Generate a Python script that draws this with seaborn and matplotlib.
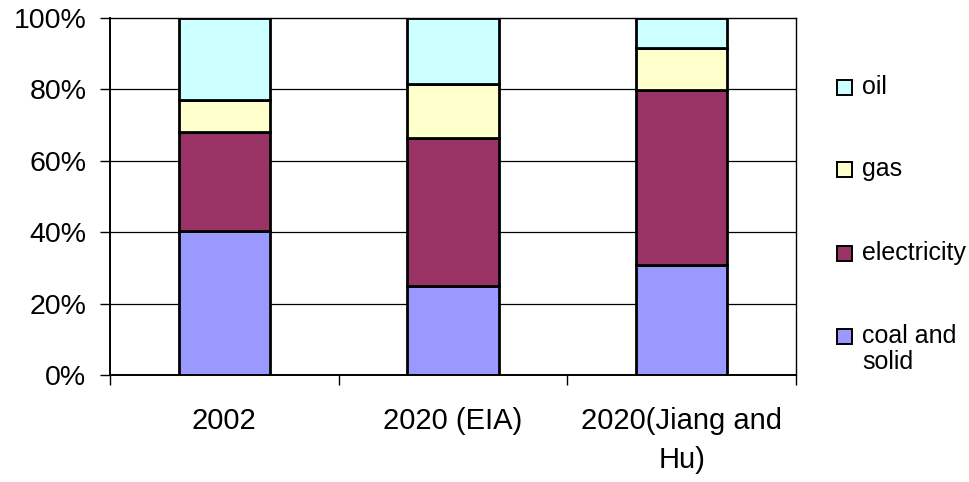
import numpy as np
import pandas as pd
import matplotlib
matplotlib.use("Agg")
import matplotlib.pyplot as plt
from matplotlib.patches import Rectangle
from matplotlib.ticker import FixedLocator, PercentFormatter
import seaborn as sns

# Shares of final energy use (%), stacked bottom to top
categories = ["2002", "2020 (EIA)", "2020(Jiang and\nHu)"]
coal_and_solid = [40.4, 25.1, 31.0]
electricity = [27.6, 41.3, 48.9]
gas = [9.1, 15.2, 11.6]
oil = [22.9, 18.4, 8.5]

series_names = ["coal and\nsolid", "electricity", "gas", "oil"]
series_values = [coal_and_solid, electricity, gas, oil]
series_colors = ["#9999FF", "#993366", "#FFFFCC", "#CCFFFF"]

sns.set_style("white")
plt.rcParams["font.family"] = ["Liberation Sans", "DejaVu Sans"]
plt.rcParams["text.color"] = "black"
plt.rcParams["xtick.color"] = "black"
plt.rcParams["ytick.color"] = "black"
plt.rcParams["axes.labelcolor"] = "black"

fig = plt.figure(figsize=(9.7, 4.82), dpi=100)
ax = fig.add_axes([0.1134, 0.221, 0.7072, 0.7417])

# horizontal gridlines behind the bars
for yv in [20, 40, 60, 80]:
    ax.axhline(yv, color="black", lw=0.9, zorder=0)

bottom = np.zeros(len(categories))
for name, vals, col in zip(series_names, series_values, series_colors):
    sns.barplot(x=categories, y=vals, bottom=bottom, color=col, width=0.4,
                edgecolor="black", linewidth=2.0, errorbar=None,
                saturation=1, ax=ax, zorder=2)
    bottom = bottom + np.array(vals)

ax.set_ylim(0, 100)
ax.set_xlim(-0.5, len(categories) - 0.5)
ax.yaxis.set_major_locator(FixedLocator([0, 20, 40, 60, 80, 100]))
ax.yaxis.set_major_formatter(PercentFormatter(decimals=0))

for side in ["left", "right", "top", "bottom"]:
    ax.spines[side].set_visible(True)
    ax.spines[side].set_color("black")
    ax.spines[side].set_linewidth(1.0)
ax.spines["left"].set_linewidth(1.4)
ax.spines["bottom"].set_linewidth(1.4)

ax.tick_params(axis="y", which="major", direction="out", length=7,
               width=1, pad=10, labelsize=20.5, left=True,
               color="black", labelcolor="black")
ax.tick_params(axis="x", which="major", length=0, pad=23, labelsize=21,
               labelcolor="black")
ax.xaxis.set_minor_locator(FixedLocator([-0.5, 0.5, 1.5, 2.5]))
ax.tick_params(axis="x", which="minor", direction="out", length=7,
               width=1, bottom=True, color="black")
for lbl in ax.get_xticklabels():
    lbl.set_linespacing(1.5)
    lbl.set_ha("center")
ax.set_xlabel("")
ax.set_ylabel("")

# legend: swatches with labels, top entry first
W, H = 970.0, 482.0
legend_rows = [("oil", "#CCFFFF", 87), ("gas", "#FFFFCC", 169),
               ("electricity", "#993366", 253), ("coal and\nsolid", "#9999FF", 336)]
for label, col, ypx in legend_rows:
    fig.patches.append(Rectangle((837 / W, 1 - (ypx + 7.5) / H), 15 / W, 15 / H,
                                 transform=fig.transFigure, facecolor=col,
                                 edgecolor="black", linewidth=1.4))
    fig.text(862 / W, 1 - ypx / H, label.split("\n")[0], fontsize=18,
             va="center", ha="left", color="black")
    if "\n" in label:
        fig.text(862 / W, 1 - (ypx + 26) / H, label.split("\n")[1], fontsize=18,
                 va="center", ha="left", color="black")

fig.savefig("out.png", dpi=100)
